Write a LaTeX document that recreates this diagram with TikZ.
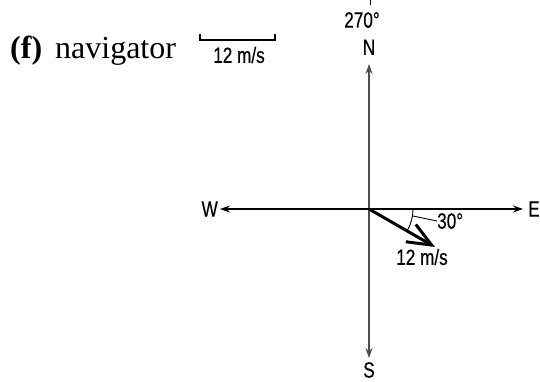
\documentclass[tikz,border=0pt]{standalone}
\usepackage{fontspec}
\setmainfont{Liberation Serif}
\newfontfamily\lblfont[FakeStretch=0.78, FakeBold=0.4]{Liberation Sans}
\usetikzlibrary{positioning, arrows.meta}

\begin{document}
\begin{tikzpicture}[x=1pt, y=-1pt,
    lbl/.style={font=\lblfont\fontsize{22}{22}\selectfont, inner sep=0pt},
    axis/.style={line width=1.6pt, -{Stealth[length=10pt,width=7pt]}}]
  \useasboundingbox (0,0) rectangle (540,381);
  % heading
  \node[anchor=base west, inner sep=0pt, font=\fontsize{32}{32}\selectfont]
    (title) at (10,58) {\textbf{(f)}\hspace{13pt}navigator};
  % scale bar
  \coordinate (barL) at (200,40);
  \coordinate (barR) at (275,40);
  \draw[line width=1.3pt] ([yshift=6pt]barL) -- (barL) -- (barR) -- ([yshift=6pt]barR);
  \node[lbl] (barlbl) at (239,55) {12 m/s};
  % axes
  \coordinate (O) at (369,209);
  \coordinate (Ntip) at (369,64);
  \coordinate (Stip) at (369,358);
  \coordinate (Wtip) at (220,209);
  \coordinate (Etip) at (523,209);
  \node[lbl, above=9pt of Ntip] (N) {N};
  \node[lbl, below=4pt of Stip] (S) {S};
  \node[lbl, left=2pt of Wtip] (W) {W};
  \node[lbl, right=5pt of Etip] (E) {E};
  \draw[axis, black!70] (O) -- (Ntip);
  \draw[axis, black!70] (O) -- (Stip);
  \draw[axis] (O) -- (Wtip);
  \draw[axis] (O) -- (Etip);
  % heading mark
  \node[lbl] (hdg) at (362,20) {270°};
  \coordinate (tickT) at (370,0);
  \draw[line width=1pt] (tickT) -- ++(0,5);
  % velocity
  \coordinate (V) at (435,247);
  \draw[line width=3pt, -{Straight Barb[length=24pt,width=20pt,line width=3pt]}] (O) -- (V);
  \node[lbl] (vlbl) at (422,257) {12 m/s};
  % angle
  \draw[line width=0.9pt] ([xshift=44pt]O) arc[start angle=0, end angle=30, radius=44];
  \node[lbl, anchor=west] (ang) at (437,221) {30°};
  \coordinate (arcpt) at ([shift={(9:44)}]O);
  \draw[line width=0.9pt] (arcpt) -- (ang.west);
\end{tikzpicture}
\end{document}
